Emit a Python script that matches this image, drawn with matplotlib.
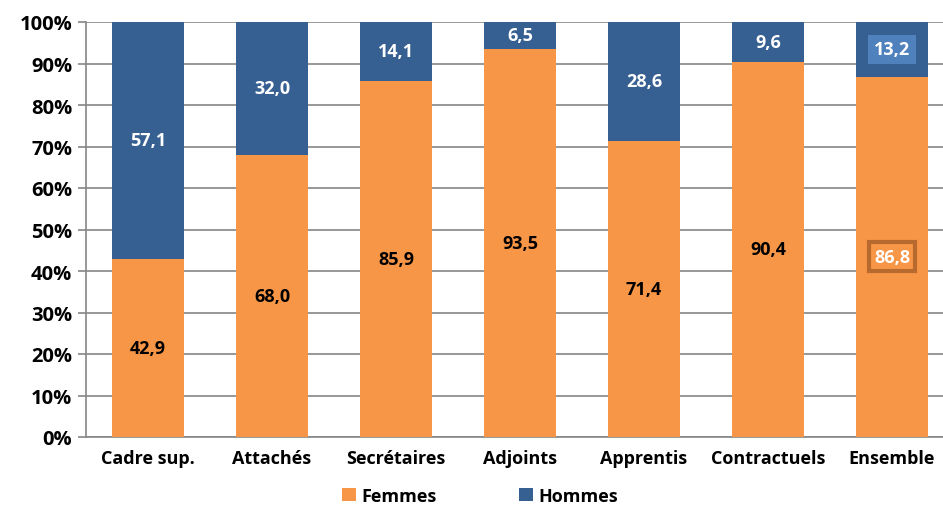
import matplotlib
matplotlib.use("Agg")
import matplotlib.pyplot as plt
import numpy as np
from matplotlib.patches import Patch

categories = ["Cadre sup.", "Attachés", "Secrétaires", "Adjoints", "Apprentis", "Contractuels", "Ensemble"]
femmes = [42.9, 68.0, 85.9, 93.5, 71.4, 90.4, 86.8]
hommes = [57.1, 32.0, 14.1, 6.5, 28.6, 9.6, 13.2]
yticks = [0, 10, 20, 30, 40, 50, 60, 70, 80, 90, 100]

ORANGE = "#F79646"
BLUE = "#376092"
FONT = "Open Sans"
FS = 13

fig = plt.figure(figsize=(9.43, 5.06), dpi=100)
ax = fig.add_axes([86/943, 68/506, 868/943, 415/506])

x = np.arange(len(categories))
w = 0.573
ax.bar(x, femmes, width=w, color=ORANGE, zorder=3)
ax.bar(x, hommes, width=w, bottom=femmes, color=BLUE, zorder=3)

ax.set_xlim(-0.5, len(categories) - 0.5)
ax.set_ylim(0, 100)
ax.set_yticks(yticks)
ax.set_yticklabels([f"{v}%" for v in yticks], fontsize=14.5, fontweight="bold", family=FONT)
ax.set_xticks(x)
ax.set_xticklabels(categories, fontsize=FS, fontweight="bold", family=FONT)
ax.tick_params(axis="x", length=0, pad=9)
ax.tick_params(axis="y", length=6, color="#868686", width=1.2, pad=4)
ax.yaxis.grid(True, color="#868686", linewidth=1.2, zorder=0)
for s in ["top", "right"]:
    ax.spines[s].set_visible(False)
for s in ["left", "bottom"]:
    ax.spines[s].set_color("#868686")
    ax.spines[s].set_linewidth(1.2)

n = len(categories)
for i in range(n):
    f = femmes[i]
    h = hommes[i]
    ftxt = f"{f:.1f}".replace(".", ",")
    htxt = f"{h:.1f}".replace(".", ",")
    fy = f / 2
    hy = f + h / 2
    if i == n - 1:
        ax.text(i, fy, ftxt, ha="center", va="center", fontsize=FS, fontweight="bold",
                family=FONT, color="white", zorder=5,
                bbox=dict(boxstyle="square,pad=0.3", facecolor=ORANGE, edgecolor="#B86A2E", linewidth=3))
        ax.text(i, hy, htxt, ha="center", va="center", fontsize=FS, fontweight="bold",
                family=FONT, color="white", zorder=5,
                bbox=dict(boxstyle="square,pad=0.3", facecolor="#4F81BD", edgecolor="none"))
    else:
        ax.text(i, fy, ftxt, ha="center", va="center", fontsize=FS, fontweight="bold",
                family=FONT, color="black", zorder=5)
        ax.text(i, hy, htxt, ha="center", va="center", fontsize=FS, fontweight="bold",
                family=FONT, color="white", zorder=5)

handles = [Patch(facecolor=ORANGE, label="Femmes"), Patch(facecolor=BLUE, label="Hommes")]
fig.legend(handles=handles, loc="center", bbox_to_anchor=(480/943, 1 - 497/506), ncol=2,
           frameon=False, prop={"family": FONT, "weight": "bold", "size": FS},
           handlelength=0.75, handleheight=0.75, handletextpad=0.3, columnspacing=4.6)

fig.savefig("out.png", dpi=100)
